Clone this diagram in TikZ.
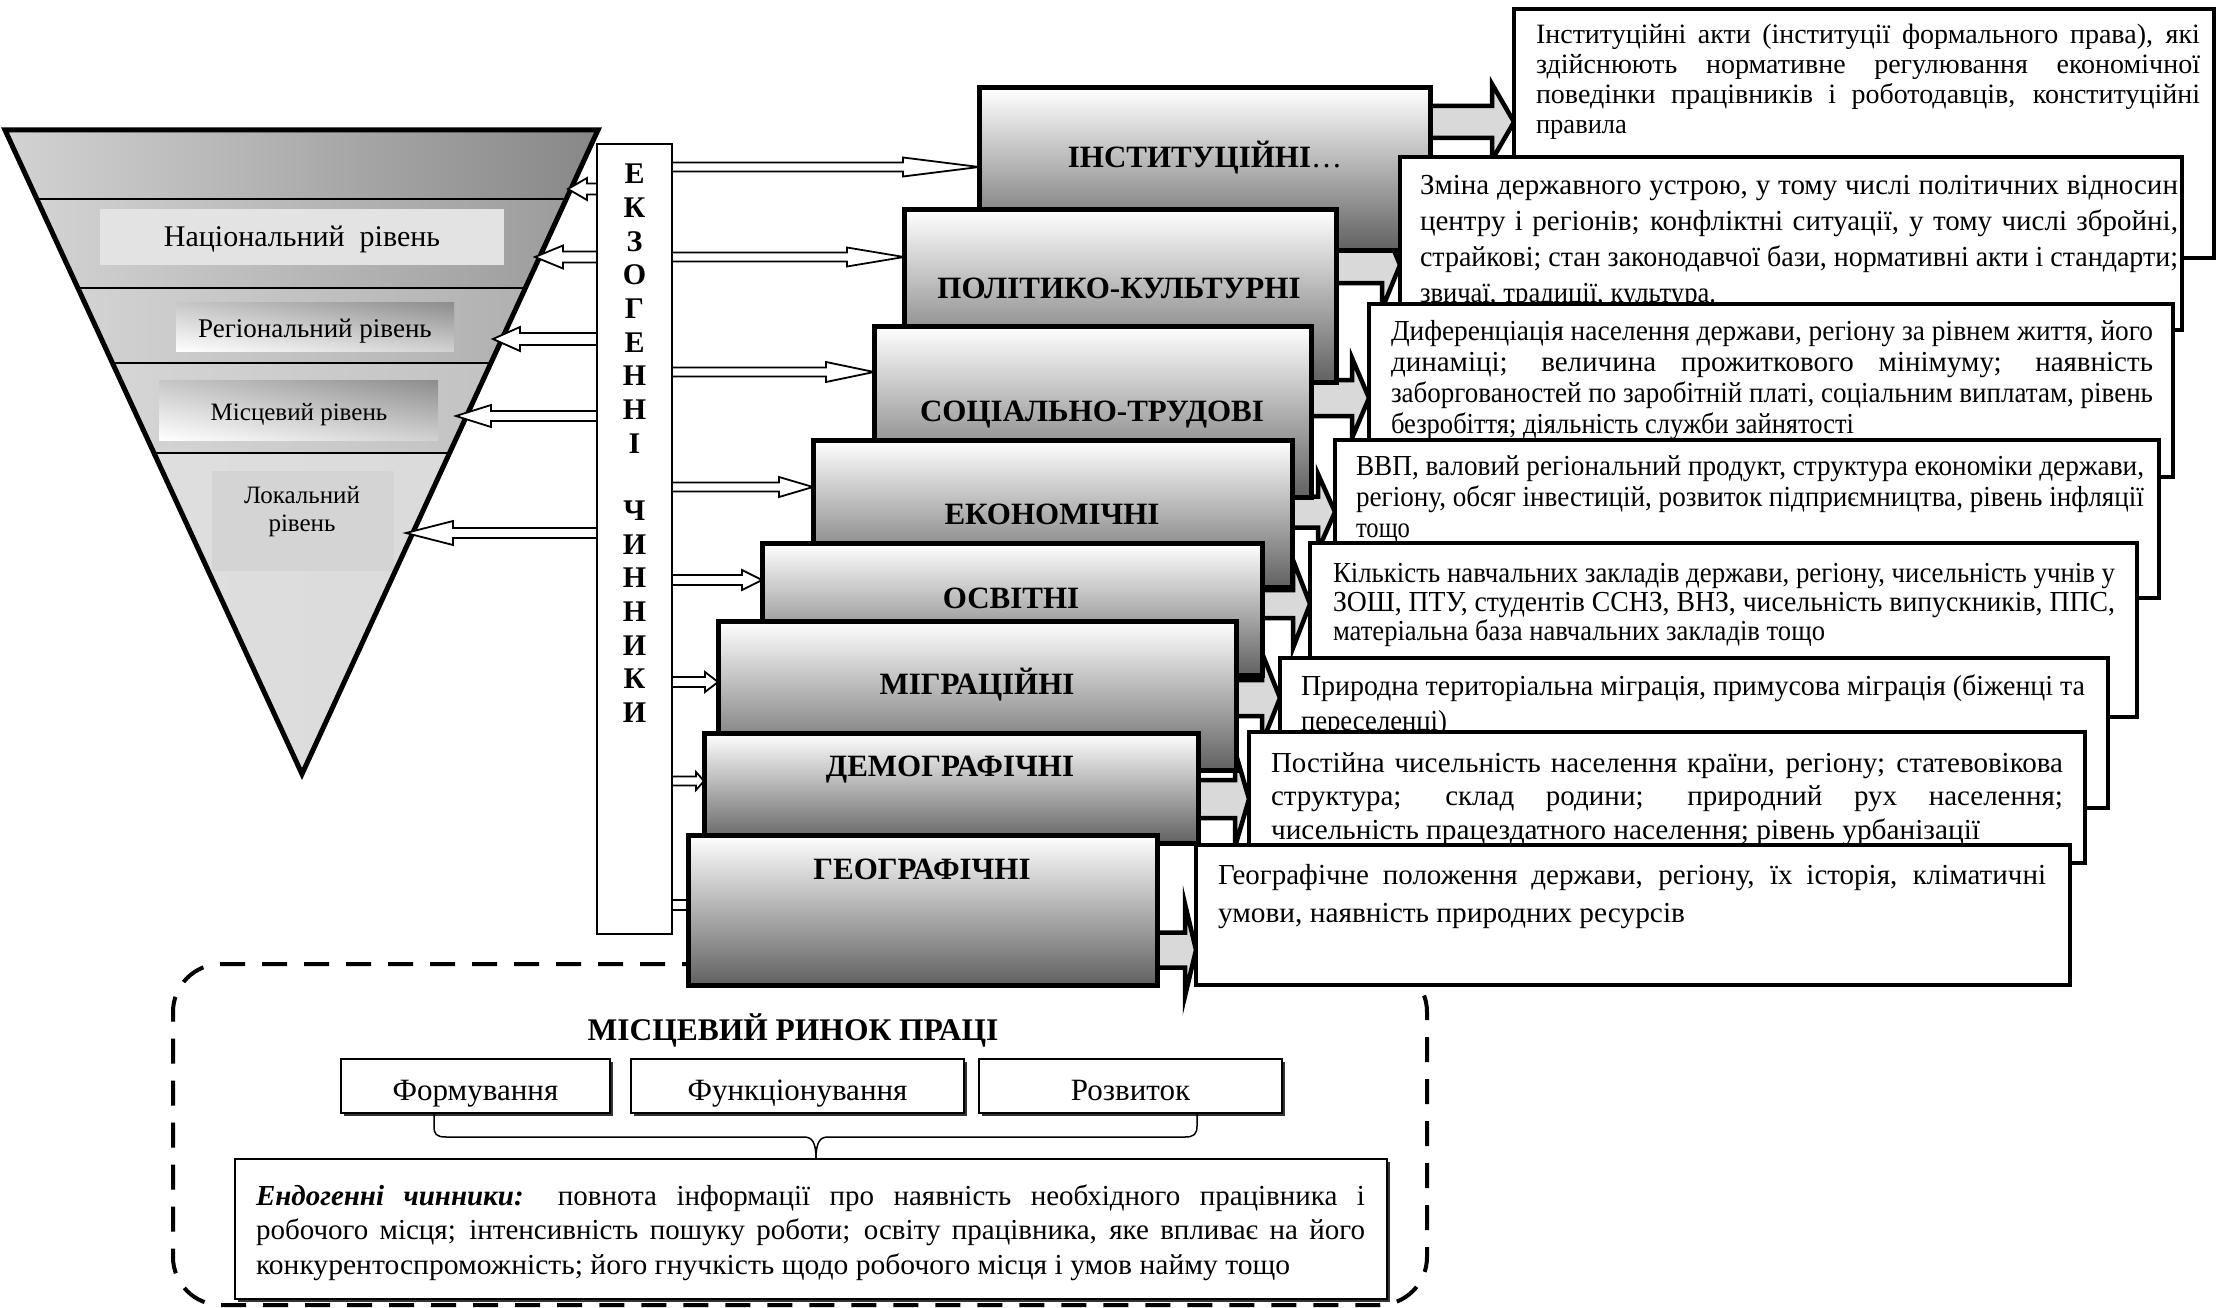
\documentclass[tikz,border=0pt]{standalone}
\usepackage{fontspec}
\setmainfont{Liberation Serif}
\usepackage{graphicx}
\usetikzlibrary{calc,fit,shadows,shadings}
\pgfdeclarelayer{bg}
\pgfsetlayers{bg,main}

% one justified line: stretched spaces, or squeezed if too wide
\newlength\fitw
\newcommand\jline[1]{\settowidth\fitw{#1}%
  \ifdim\fitw>\linewidth\resizebox{\linewidth}{\height}{#1}%
  \else\makebox[\linewidth][s]{#1}\fi\par}
% closing line of a paragraph, set to a given width
\newcommand\lastln[2]{\resizebox{#1}{\height}{#2}\par}
\newcommand\txtsize[2]{\fontsize{#1pt}{#2pt}\selectfont}

% block arrow: style, start, tip, half shaft, half head, head length (signed)
\newcommand\blockarrow[6]{%
  \draw[#1] let \p1=(#2), \p2=(#3) in
    (\x1,{\y2+#4pt}) -- ({\x2-(#6pt)},{\y2+#4pt}) -- ({\x2-(#6pt)},{\y2+#5pt})
    -- (\x2,\y2) -- ({\x2-(#6pt)},{\y2-#5pt}) -- ({\x2-(#6pt)},{\y2-#4pt})
    -- (\x1,{\y2-#4pt}) -- cycle;}

% paragraph of a description box
\newcommand\descnode[5]{%
  \node[anchor=base west, inner sep=0pt, outer sep=0pt] (#1) at (#2)
    {\parbox[t]{#3pt}{#4\lineskiplimit=-60pt\relax#5}};}

\begin{document}
\begin{tikzpicture}[x=1pt, y=-1pt,
  fbox/.style={draw, line width=5pt, top color=white, bottom color=black!62,
    inner sep=0pt, outer sep=0pt},
  dbox/.style={draw, line width=3.5pt, fill=white, inner sep=0pt, outer sep=0pt},
  flabel/.style={font=\txtsize{31}{36}\bfseries, inner sep=0pt, anchor=base},
  exol/.style={font=\txtsize{30}{34}\bfseries, inner sep=0pt, anchor=base},
  lvl/.style={inner sep=0pt, anchor=base},
  harrow/.style={draw=black, fill=white, line width=1.8pt},
  garrow/.style={draw=black, fill=black!15, line width=4.5pt},
  mbox/.style={draw, line width=2pt, fill=white, inner sep=0pt, outer sep=0pt,
    drop shadow={shadow xshift=2.5pt, shadow yshift=-2.5pt, fill=black!80, opacity=1}},
]
\useasboundingbox (0,0) rectangle (2219,1308);

% ---------- levels pyramid ----------
\coordinate (tl) at (5,130);
\coordinate (tr) at (598,130);
\coordinate (ap) at (302,774);
\begin{scope}
  \clip (tl) -- (tr) -- (ap) -- cycle;
  \shade[left color=black!17, right color=black!47] (0,126) rectangle (600,199);
  \shade[left color=black!16, right color=black!40] (0,199) rectangle (600,288);
  \shade[left color=black!15, right color=black!33] (0,288) rectangle (600,363);
  \shade[left color=black!14, right color=black!26] (0,363) rectangle (600,453);
  \shade[left color=black!12, right color=black!15] (0,453) rectangle (600,780);
  \foreach \yy in {199,288,363,453}
    \draw[line width=2pt] (0,\yy) -- (600,\yy);
\end{scope}

\fill[black!11] (100,209) rectangle (504,265);
\node[lvl, font=\txtsize{30}{34}] (lnat) at (302,247) {Національний~ рівень};
\shade[upper left=black!22, upper right=black!45, lower left=white, lower right=black!18]
  (176,302) rectangle (454,351);
\node[lvl, font=\txtsize{27}{31}] (lreg) at (315,337) {Регіональний рівень};
\shade[upper left=black!22, upper right=black!45, lower left=white, lower right=black!18]
  (159,380) rectangle (438,440);
\node[lvl, font=\txtsize{25}{29}] (lmis) at (299,420) {Місцевий рівень};
\fill[black!17] (212,471) rectangle (394,571);
\node[lvl, font=\txtsize{25}{28}] (lloc1) at (302,503) {Локальний};
\node[lvl, font=\txtsize{25}{28}] (lloc2) at (302,531) {рівень};

\draw[line width=5pt, line join=miter] (tl) -- (tr) -- (ap) -- cycle;

% ---------- exogenous factors column ----------
\node[draw, line width=2pt, fill=white, inner sep=0pt, outer sep=0pt,
  fit={(597,144) (672,934)}] (exo) {};
\foreach \ch [count=\i from 0] in {Е,К,З,О,Г,Е,Н,Н,І}
  \node[exol] (exa\i) at (634.5,{184+33.65*\i}) {\ch};
\foreach \ch [count=\i from 10] in {Ч,И,Н,Н,И,К,И}
  \node[exol] (exb\i) at (634.5,{184+33.65*\i}) {\ch};

% arrows towards the pyramid levels
\coordinate (la1) at (568,189);
\coordinate (la2) at (535,257);
\coordinate (la3) at (493,339);
\coordinate (la4) at (456,416);
\coordinate (la5) at (406,533);
\blockarrow{harrow}{exo.west |- la1}{la1}{5.5}{11}{-19}
\blockarrow{harrow}{exo.west |- la2}{la2}{5.5}{11.5}{-28}
\blockarrow{harrow}{exo.west |- la3}{la3}{6}{12}{-27}
\blockarrow{harrow}{exo.west |- la4}{la4}{5}{11}{-35}
\blockarrow{harrow}{exo.west |- la5}{la5}{5}{12}{-47}

% ---------- factor groups and their descriptions ----------
\node[fbox, fit={(979,88) (1430,250)}] (b1) {};
\node[flabel] (t1) at (1205,168) {ІНСТИТУЦІЙНІ\textmd{…}};
\node[dbox, fit={(1514,9) (2214,258)}] (d1) {};
\descnode{x1}{1536,44}{664}{\txtsize{28}{30}}{%
  \jline{Інституційні акти (інституції формального права), які}%
  \jline{здійснюють нормативне регулювання економічної}%
  \jline{поведінки працівників і роботодавців, конституційні}%
  \lastln{91pt}{правила}}

\node[fbox, fit={(904,210) (1336,382)}] (b2) {};
\node[flabel] (t2) at (1119,298) {ПОЛІТИКО-КУЛЬТУРНІ};
\node[dbox, fit={(1400,157) (2182,330)}] (d2) {};
\descnode{x2}{1420,195}{758}{\txtsize{29}{36}}{%
  \jline{Зміна державного устрою, у тому числі політичних відносин}%
  \jline{центру і регіонів; конфліктні ситуації, у тому числі збройні,}%
  \jline{страйкові; стан законодавчої бази, нормативні акти і стандарти;}%
  \lastln{296pt}{звичаї, традиції, культура.}}

\node[fbox, fit={(874,326) (1311,497)}] (b3) {};
\node[flabel] (t3) at (1092,421) {СОЦІАЛЬНО-ТРУДОВІ};
\node[dbox, fit={(1369,304) (2173,477)}] (d3) {};
\descnode{x3}{1391,340}{762}{\txtsize{29}{31}}{%
  \jline{Диференціація населення держави, регіону за рівнем життя, його}%
  \jline{динаміці; величина прожиткового мінімуму; наявність}%
  \jline{заборгованостей по заробітній платі, соціальним виплатам, рівень}%
  \lastln{463pt}{безробіття; діяльність служби зайнятості}}

\node[fbox, fit={(813,440) (1292,587)}] (b4) {};
\node[flabel] (t4) at (1052,524) {ЕКОНОМІЧНІ};
\node[dbox, fit={(1335,440) (2159,598)}] (d4) {};
\descnode{x4}{1356,475}{788}{\txtsize{29}{31}}{%
  \jline{ВВП, валовий регіональний продукт, структура економіки держави,}%
  \jline{регіону, обсяг інвестицій, розвиток підприємництва, рівень інфляції}%
  \lastln{54pt}{тощо}}

\node[fbox, fit={(762,543) (1262,675)}] (b5) {};
\node[flabel] (t5) at (1011,608) {ОСВІТНІ};
\node[dbox, fit={(1310,543) (2137,717)}] (d5) {};
\descnode{x5}{1333,582}{782}{\txtsize{29}{29}}{%
  \jline{Кількість навчальних закладів держави, регіону, чисельність учнів у}%
  \jline{ЗОШ, ПТУ, студентів ССНЗ, ВНЗ, чисельність випускників, ППС,}%
  \lastln{492pt}{матеріальна база навчальних закладів тощо}}

\node[fbox, fit={(718,621) (1236,770)}] (b6) {};
\node[flabel] (t6) at (977,694) {МІГРАЦІЙНІ};
\node[dbox, fit={(1280,658) (2108,808)}] (d6) {};
\descnode{x6}{1301,695}{784}{\txtsize{29}{35}}{%
  \jline{Природна територіальна міграція, примусова міграція (біженці та}%
  \lastln{146pt}{переселенці)}}

\node[fbox, fit={(704,733) (1198,843)}] (b7) {};
\node[flabel] (t7) at (950,776) {ДЕМОГРАФІЧНІ};
\node[dbox, fit={(1249,732) (2085,863)}] (d7) {};
\descnode{x7}{1271,772}{792}{\txtsize{29}{33.5}}{%
  \jline{Постійна чисельність населення країни, регіону; статевовікова}%
  \jline{структура; склад родини; природний рух населення;}%
  \lastln{709pt}{чисельність працездатного населення; рівень урбанізації}}

\node[fbox, fit={(688,835) (1157,985)}] (b8) {};
\node[flabel] (t8) at (922,879) {ГЕОГРАФІЧНІ};
\node[dbox, fit={(1196,845) (2070,985)}] (d8) {};
\descnode{x8}{1218,884}{828}{\txtsize{29}{38}}{%
  \jline{Географічне положення держави, регіону, їх історія, кліматичні}%
  \lastln{467pt}{умови, наявність природних ресурсів}}

% ---------- local labour market ----------
\node[flabel, font=\txtsize{31.5}{34}\bfseries] (mtitle) at (793,1040) {МІСЦЕВИЙ РИНОК ПРАЦІ};
\node[mbox, fit={(341,1059) (610,1113)}] (form) {};
\node[mbox, fit={(631,1059) (964,1113)}] (func) {};
\node[mbox, fit={(979,1059) (1282,1113)}] (rozv) {};
\node[lvl, font=\txtsize{31}{34}] (formt) at ($(form.center)+(0,14)$) {Формування};
\node[lvl, font=\txtsize{31}{34}] (funct) at ($(func.center)+(0,14)$) {Функціонування};
\node[lvl, font=\txtsize{31}{34}] (rozvt) at ($(rozv.center)+(0,14)$) {Розвиток};

\node[mbox, fit={(235,1159) (1387,1299)}] (endo) {};
\descnode{xe}{256,1205}{1109}{\txtsize{29}{34.5}}{%
  \jline{\textbf{\textit{Ендогенні чинники:}} повнота інформації про наявність необхідного працівника і}%
  \jline{робочого місця; інтенсивність пошуку роботи; освіту працівника, яке впливає на його}%
  \lastln{1034pt}{конкурентоспроможність; його гнучкість щодо робочого місця і умов найму тощо}}

% brace gathering the three stages into the endogenous factors
\coordinate (brl) at (form.south -| 434,0);
\coordinate (brr) at (rozv.south -| 1197,0);
\coordinate (brt) at (endo.north -| 816,0);
\draw[line width=1.5pt]
  (brl) -- ++(0,13) .. controls ++(0,8) and ++(-10,0) .. (446,1137) -- (804,1137)
  .. controls (812,1137) and (brt |- 0,1142) .. (brt)
  .. controls (brt |- 0,1142) and (820,1137) .. (828,1137) -- (1185,1137)
  .. controls (1194,1137) and (1197,1134) .. (1197,1126) -- (brr);

% ---------- background layer: frame and connectors ----------
\begin{pgfonlayer}{bg}
  \fill[white] (0,0) rectangle (2219,1308);
  \node[draw, line width=4pt, dash pattern=on 25pt off 17pt, rounded corners=48pt,
    inner sep=0pt, outer sep=0pt, fit={(173,964) (1427,1305)}] (mkt) {};

  \coordinate (ga1) at (0,122);
  \coordinate (ga2) at (0,265);
  \coordinate (ga3) at (0,398);
  \coordinate (ga4) at (0,512);
  \coordinate (ga5) at (0,604);
  \coordinate (ga6) at (0,698);
  \coordinate (ga7) at (0,799);
  \coordinate (ga8) at (0,950);
  \blockarrow{garrow}{b1.east |- ga1}{d1.west |- ga1}{16}{38}{22}
  \blockarrow{garrow}{b2.east |- ga2}{d2.west |- ga2}{18}{44}{18}
  \blockarrow{garrow}{b3.east |- ga3}{d3.west |- ga3}{18}{40}{17}
  \blockarrow{garrow}{b4.east |- ga4}{d4.west |- ga4}{15.5}{38}{17}
  \blockarrow{garrow}{b5.east |- ga5}{d5.west |- ga5}{14}{44}{17}
  \blockarrow{garrow}{b6.east |- ga6}{d6.west |- ga6}{18}{45}{18}
  \blockarrow{garrow}{b7.east |- ga7}{d7.west |- ga7}{19}{48}{14}
  \blockarrow{garrow}{b8.east |- ga8}{d8.west |- ga8}{17.5}{46}{11}

  \coordinate (ra1) at (0,167);
  \coordinate (ra2) at (0,257);
  \coordinate (ra3) at (0,372);
  \coordinate (ra4) at (0,487);
  \coordinate (ra5) at (0,580);
  \coordinate (ra6) at (0,682);
  \coordinate (ra7) at (0,781);
  \coordinate (ra8) at (0,905);
  \blockarrow{harrow}{exo.east |- ra1}{b1.west |- ra1}{4.5}{9.5}{76}
  \blockarrow{harrow}{exo.east |- ra2}{b2.west |- ra2}{4.5}{9.5}{57}
  \blockarrow{harrow}{exo.east |- ra3}{b3.west |- ra3}{4.5}{10}{48}
  \blockarrow{harrow}{exo.east |- ra4}{b4.west |- ra4}{4.5}{10}{34}
  \blockarrow{harrow}{exo.east |- ra5}{b5.west |- ra5}{5}{10}{20}
  \blockarrow{harrow}{exo.east |- ra6}{b6.west |- ra6}{5}{10}{13}
  \blockarrow{harrow}{exo.east |- ra7}{b7.west |- ra7}{4.5}{9}{8}
  \blockarrow{harrow}{exo.east |- ra8}{$(b8.west |- ra8)+(16,0)$}{5}{10}{14}
\end{pgfonlayer}
\end{tikzpicture}
\end{document}
